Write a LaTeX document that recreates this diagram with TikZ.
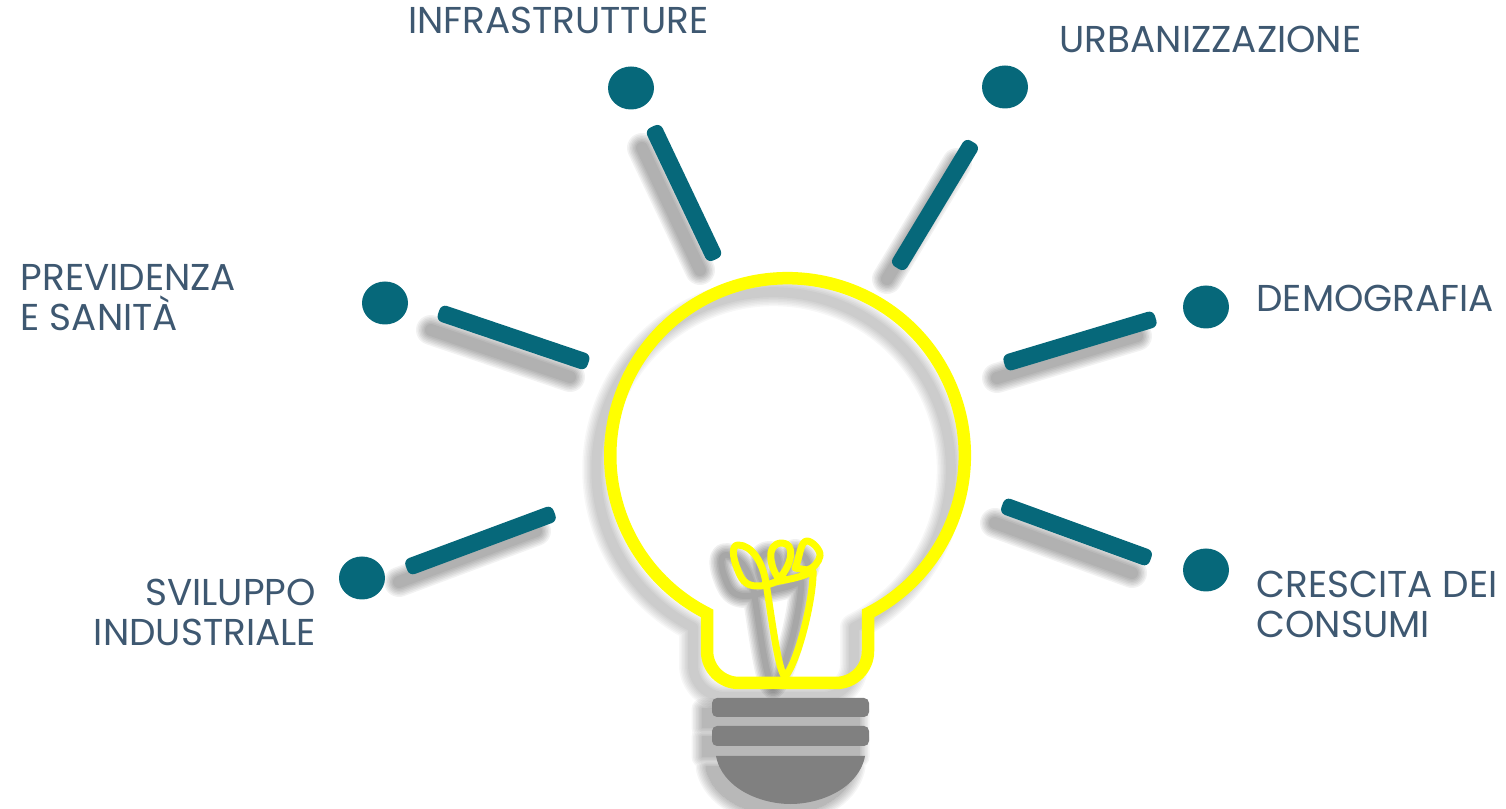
\documentclass[tikz,border=0pt]{standalone}
\usepackage{fontspec}
\setmainfont{Poppins}
\usetikzlibrary{positioning}
\usetikzlibrary{shapes.geometric}
\definecolor{teal}{RGB}{6,104,122}
\definecolor{ink}{RGB}{62,88,113}
\definecolor{lamp}{RGB}{255,255,0}
\definecolor{base}{RGB}{128,128,128}
\newcommand{\softshadow}[4]{\foreach \s in {18,15,12,9,6,3,0} \draw[line width=#1+\s*1pt, black, opacity=#4, line join=round, line cap=round, shift={#2}] #3;}
\newcommand{\bulbpath}{(868,194.6) arc[start angle=-63, end angle=243, radius=177.25] [rounded corners=32pt] -- (707,125) -- (868,125) [sharp corners] -- cycle}
\newcommand{\filamentpath}{(785,131) .. controls (778,138) and (772,188) .. (766,225) .. controls (763,245) and (752,263) .. (738,263) .. controls (731,263) and (733,250) .. (737,240) .. controls (741,229) and (745,222) .. (757,222) .. controls (770,222) and (772,226) .. (780,227) .. controls (790,229) and (803,231) .. (813,237) .. controls (814,215) and (800,150) .. (785,131) (779,229) .. controls (770,240) and (765,265) .. (782,265) .. controls (795,265) and (793,245) .. (779,229) (795,240) .. controls (800,250) and (800,267) .. (807,267) .. controls (812,267) and (821,258) .. (820,252) .. controls (819,246) and (813,239) .. (807,238) -- cycle}
\newcommand{\baseonepath}{(712,91) rectangle (869,110)}
\newcommand{\basetwopath}{(712,62) rectangle (869,82)}
\newcommand{\domepath}{(716,52) .. controls (722,20) and (760,4) .. (790.5,4) .. controls (821,4) and (859,20) .. (865,52) -- cycle}
\begin{document}
\begin{tikzpicture}[x=1pt, y=1pt,
    dotmark/.style = {ellipse, fill=teal, minimum width=46pt, minimum height=43pt, inner sep=0pt},
    lab/.style = {text=ink, font=\fontsize{37.4}{40}\selectfont, inner sep=0pt},
    bar/.style = {rectangle, minimum height=17pt, inner sep=0pt, rounded corners=6pt},
    bulb/.style = {line width=12.5pt, lamp, line join=miter},
    filament/.style = {line width=7pt, lamp, line join=round},
    plate/.style = {fill=base, rounded corners=5pt}]
    \useasboundingbox (0,0) rectangle (1506,808);
    % shadows
    \foreach \ax/\ay/\bx/\by in {444/494/583/447, 655/676/713/554, 970/661/900/545, 1010/446/1150/488, 1008/301/1145/251, 412/242/549/293}
        \softshadow{12pt}{(-13,-16)}{(\ax,\ay) -- (\bx,\by)}{.05};
    \softshadow{10pt}{(-14,-14)}{\bulbpath}{.033};
    \softshadow{6pt}{(-12,-10)}{\filamentpath}{.06};
    \foreach \s in {21,18,15,12,9,6,3,0} {
        \begin{scope}[transparency group, opacity=.04]
            \draw[line width=\s*1pt, black, fill=black, line join=round, shift={(-10,-11)}] \baseonepath \basetwopath \domepath;
        \end{scope}
    }
    % rays
    \foreach \mx/\my/\len/\ang/\name in {513.5/470.5/158/-18.7/rayprev, 684/615/147/-64.6/rayinfra, 935/603/147/58.9/rayurban, 1080/467/158/16.7/raydemo, 1076.5/276/158/-20/raycresc, 480.5/267.5/158/20.4/raysvil}
        \node[bar, fill=teal, minimum width=\len*1pt, rotate=\ang] (\name) at (\mx,\my) {};
    % lamp
    \draw[bulb] \bulbpath;
    \draw[filament] \filamentpath;
    \fill[plate] \baseonepath;
    \fill[plate] \basetwopath;
    \fill[base] \domepath;
    % dots and labels
    \node[dotmark] (infra) at (631,720) {};
    \node[dotmark] (urban) at (1005,721) {};
    \node[dotmark] (prev) at (385,505) {};
    \node[dotmark] (demo) at (1206,501) {};
    \node[dotmark] (cresc) at (1206,238) {};
    \node[dotmark] (svil) at (362,230) {};
    \node[lab, anchor=west] (infratext) at (408,787.5) {INFRASTRUTTURE};
    \node[lab, anchor=west] (urbantext) at (1059.5,768.5) {URBANIZZAZIONE};
    \node[lab, align=left, anchor=west] (prevtext) at (20.5,510) {PREVIDENZA\\E SANITÀ};
    \node[lab, right=27pt of demo, yshift=9pt] (demotext) {DEMOGRAFIA};
    \node[lab, align=left, anchor=west] (cresctext) at (1256.5,204) {CRESCITA DEI\\CONSUMI};
    \node[lab, align=right, anchor=east] (sviltext) at (316,196) {SVILUPPO\\INDUSTRIALE};
\end{tikzpicture}
\end{document}
